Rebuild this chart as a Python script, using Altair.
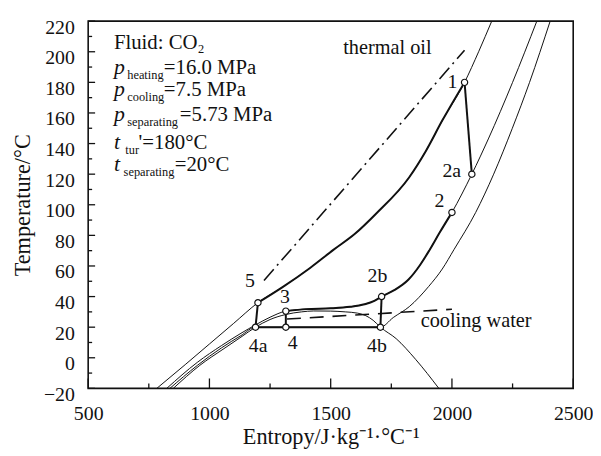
import altair as alt
import pandas as pd

FONT = "Liberation Serif"
INK = "#111111"
W, H = 490, 371

# ---------------- data ----------------
# 16.0 MPa isobar (heating pressure)
s_p160 = [783, 900, 1000, 1100, 1200, 1300, 1415, 1511, 1600, 1688, 1824, 1892, 1960, 2052, 2110, 2164]
T_p160 = [-20, -4.5, 9, 22.5, 36, 46, 58.7, 70.5, 81, 94.3, 118, 135, 155, 180, 200, 220]

# 7.5 MPa isobar (cooling pressure)
s_p75 = [824, 950, 1050, 1130, 1190, 1250, 1315, 1400, 1500, 1580, 1640, 1680, 1710, 1760, 1820,
         1870, 1906, 1950, 2000, 2082, 2150, 2250, 2350]
T_p75 = [-20, -3, 8, 16, 21.5, 26.5, 30.5, 31.8, 32.3, 33.3, 35, 37.2, 40, 44, 51,
         61, 70, 82, 95, 120, 143, 180, 220]

# 5.73 MPa isobar (separating pressure)
s_p573 = [837, 950, 1050, 1130, 1190, 1705, 1758, 1824, 1904, 1960, 2008, 2098, 2172, 2249, 2320, 2405]
T_p573 = [-20, -5, 6.5, 14.5, 20, 20, 26.3, 33.4, 46.6, 58, 70.6, 95, 120, 150, 180, 220]

# saturation dome
s_sat = [851, 960, 1060, 1130, 1190, 1250, 1315, 1380, 1430, 1500, 1560, 1610, 1645, 1675, 1705, 1770, 1850, 1946]
T_sat = [-20, -5, 6, 13.5, 20, 25, 28.3, 30, 30.6, 30.5, 30, 29.2, 27.5, 24.5, 20, 12.5, -1, -20]

# cycle state points
pt_name = ["1", "2a", "2", "2b", "3", "4", "4a", "4b", "5"]
pt_s = [2052, 2082, 2000, 1710, 1315, 1315, 1190, 1705, 1200]
pt_T = [180, 120, 95, 40, 30.5, 20, 20, 20, 36]

# heat source / sink lines
s_oil = [1225, 2052]
T_oil = [50.5, 201]
s_cw = [1320, 2000]
T_cw = [25.3, 31.7]

# point labels
lbl_text = ["1", "2a", "2", "2b", "3", "4", "4a", "4b", "5"]
lbl_s = [2002, 1999, 1948, 1693, 1311, 1343, 1201, 1691, 1167]
lbl_T = [176.6, 118.4, 98.4, 49.2, 35.6, 5.9, 3.9, 3.9, 46.4]

# info box
box_main_text = ["Fluid: CO", "=16.0 MPa", "=7.5 MPa", "=5.73 MPa", "'=180°C", "=20°C"]
box_main_s = [606, 812, 812, 878, 708, 857]
box_main_T = [202.0, 185.7, 170.8, 155.0, 136.2, 122.3]
box_ital_text = ["p", "p", "p", "t", "t"]
box_ital_s = [606, 606, 606, 606, 606]
box_ital_T = [185.7, 170.8, 155.0, 136.2, 122.3]
box_sub_text = ["2", "heating", "cooling", "separating", "tur", "separating"]
box_sub_s = [953, 661, 661, 661, 653, 646]
box_sub_T = [199.3, 182.4, 167.6, 151.7, 133.0, 119.1]

# axis ticks
x_major = [500, 1000, 1500, 2000, 2500]
x_minor = [750, 1250, 1750, 2250]
y_major = [-20, 0, 20, 40, 60, 80, 100, 120, 140, 160, 180, 200, 220]
y_minor = [-10, 10, 30, 50, 70, 90, 110, 130, 150, 170, 190, 210]

# ---------------- chart ----------------
xs = alt.Scale(domain=[500, 2500], nice=False, zero=False)
ys = alt.Scale(domain=[-20, 220], nice=False, zero=False)

axis_style = dict(ticks=False, domain=False, grid=False, labelFlush=False, labelFont=FONT, titleFont=FONT,
                  labelColor=INK, titleColor=INK, titleFontWeight="normal", labelFontSize=20,
                  titleFontSize=22.5, format="d")
x_axis = alt.Axis(values=x_major, title="Entropy/J·kg⁻¹·°C⁻¹", labelPadding=15, titlePadding=3, **axis_style)
y_axis = alt.Axis(values=y_major, title="Temperature/°C", labelPadding=14, titlePadding=9, labelOffset=6,
                  **axis_style)


def X(f="s"):
    return alt.X(f"{f}:Q", scale=xs, axis=x_axis)


def Y(f="T"):
    return alt.Y(f"{f}:Q", scale=ys, axis=y_axis)


def cdf(name, s, T):
    return pd.DataFrame({"s": s, "T": T, "curve": name, "i": list(range(len(s)))})


def piece(name, s, T, lo, hi):
    keep = [(a, b) for a, b in zip(s, T) if lo <= a <= hi]
    return cdf(name, [k[0] for k in keep], [k[1] for k in keep])


thin_df = pd.concat([cdf("p16", s_p160, T_p160), cdf("p75", s_p75, T_p75),
                     cdf("p573", s_p573, T_p573), cdf("sat", s_sat, T_sat)])
thin = alt.Chart(thin_df).mark_line(color=INK, strokeWidth=1, interpolate="monotone", clip=True).encode(
    x=X(), y=Y(), detail="curve:N", order="i:Q")

thick_curve_df = pd.concat([piece("c16", s_p160, T_p160, 1200, 2052),
                            piece("c75", s_p75, T_p75, 1315, 2000)])
thick_curves = alt.Chart(thick_curve_df).mark_line(color=INK, strokeWidth=2, interpolate="monotone").encode(
    x=X(), y=Y(), detail="curve:N", order="i:Q")

P = dict(zip(pt_name, zip(pt_s, pt_T)))
seg_pairs = [("1", "2a"), ("4a", "4b"), ("5", "4a"), ("3", "4"), ("2b", "4b")]
seg_df = pd.concat([cdf(a + b, [P[a][0], P[b][0]], [P[a][1], P[b][1]]) for a, b in seg_pairs])
segs = alt.Chart(seg_df).mark_line(color=INK, strokeWidth=2).encode(
    x=X(), y=Y(), detail="curve:N", order="i:Q")

oil = alt.Chart(cdf("oil", s_oil, T_oil)).mark_line(color=INK, strokeWidth=1.6, strokeDash=[15, 5, 2, 5]).encode(
    x=X(), y=Y(), order="i:Q")
cw = alt.Chart(cdf("cw", s_cw, T_cw)).mark_line(color=INK, strokeWidth=1.6, strokeDash=[14, 9]).encode(
    x=X(), y=Y(), order="i:Q")

pts = alt.Chart(pd.DataFrame({"s": pt_s, "T": pt_T})).mark_point(
    shape="circle", size=40, filled=True, fill="white", stroke=INK, strokeWidth=1.2, opacity=1).encode(
    x=X(), y=Y())


def text_layer(texts, s, T, size, style="normal", align="left"):
    df = pd.DataFrame({"s": s, "T": T, "label": texts})
    return alt.Chart(df).mark_text(font=FONT, fontSize=size, fontStyle=style, align=align,
                                   baseline="alphabetic", color=INK).encode(x=X(), y=Y(), text="label:N")


labels = text_layer(lbl_text, lbl_s, lbl_T, 20, align="center")
oil_lbl = text_layer(["thermal oil"], [1916], [198.6], 20.5, align="right")
cw_lbl = text_layer(["cooling water"], [1871], [19.8], 20.5)
box_main = text_layer(box_main_text, box_main_s, box_main_T, 21)
box_ital = text_layer(box_ital_text, box_ital_s, box_ital_T, 22, style="italic")
box_sub = text_layer(box_sub_text, box_sub_s, box_sub_T, 12.5)


def xticks(vals, length):
    return alt.Chart(pd.DataFrame({"s": vals})).mark_rule(color=INK, strokeWidth=1.3).encode(
        x=X(), y=alt.value(H), y2=alt.value(H - length))


def yticks(vals, length):
    return alt.Chart(pd.DataFrame({"T": vals})).mark_rule(color=INK, strokeWidth=1.3).encode(
        y=Y(), x=alt.value(0), x2=alt.value(length))


chart = alt.layer(
    xticks(x_major, 10), xticks(x_minor, 5), yticks(y_major, 7), yticks(y_minor, 4),
    thin, oil, cw, thick_curves, segs, pts,
    labels, oil_lbl, cw_lbl, box_main, box_ital, box_sub,
).properties(
    width=W, height=H,
    padding={"left": 81, "top": 11, "right": 20, "bottom": 63},
    autosize=alt.AutoSizeParams(type="none"),
    background="white",
).configure_view(
    stroke=INK, strokeWidth=1.6
)

chart.save("out.html", embed_options={"renderer": "svg", "actions": False})
